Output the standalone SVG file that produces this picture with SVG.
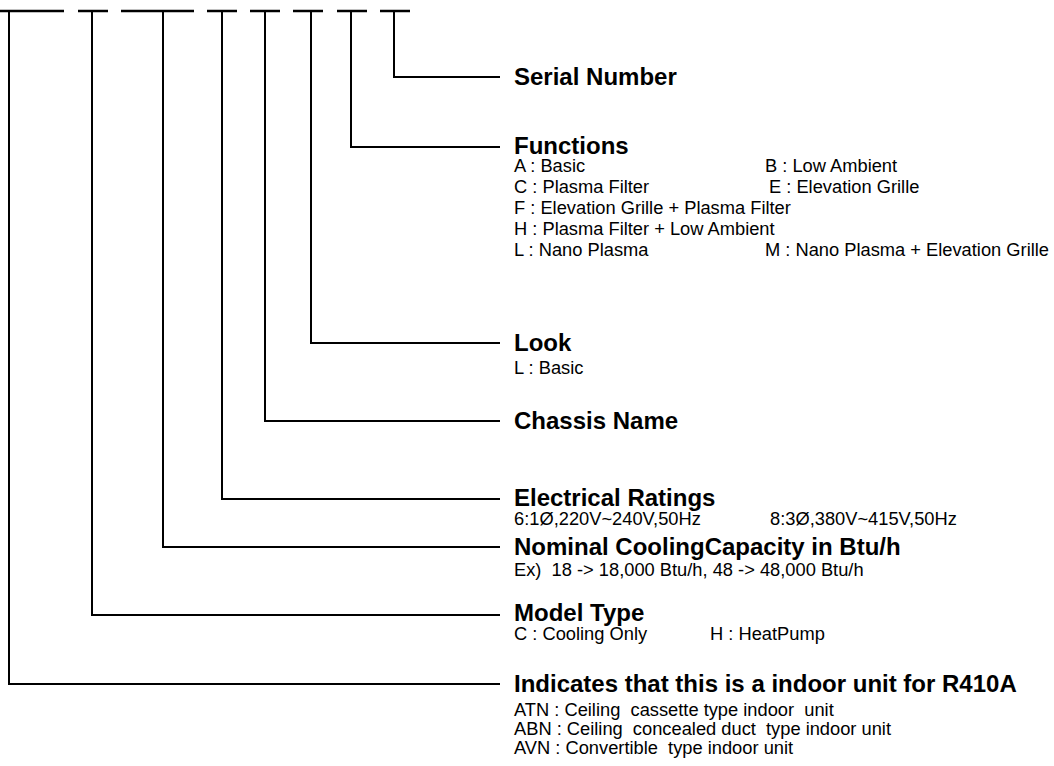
<svg xmlns="http://www.w3.org/2000/svg" width="1054" height="766" viewBox="0 0 1054 766">
<style>
.ln{fill:none;stroke:#000;stroke-width:2}
.dash{stroke:#000;stroke-width:2.5}
.t{font-family:"Liberation Sans",Arial,sans-serif;font-weight:bold;font-size:24px;fill:#000}
.s{font-family:"Liberation Sans",Arial,sans-serif;font-size:18.3px;fill:#000;white-space:pre}
</style>
<rect width="1054" height="766" fill="#fff"/>
<g id="code-dashes">
<line class="dash" x1="0" y1="11" x2="64" y2="11"/>
<line class="dash" x1="78" y1="11" x2="108" y2="11"/>
<line class="dash" x1="121" y1="11" x2="194" y2="11"/>
<line class="dash" x1="207" y1="11" x2="237" y2="11"/>
<line class="dash" x1="250" y1="11" x2="280" y2="11"/>
<line class="dash" x1="293" y1="11" x2="323" y2="11"/>
<line class="dash" x1="337" y1="11" x2="367" y2="11"/>
<line class="dash" x1="380" y1="11" x2="410" y2="11"/>
</g>
<g id="connectors">
<polyline class="ln" points="394,11 394,77 500,77"/>
<polyline class="ln" points="351,11 351,147 500,147"/>
<polyline class="ln" points="311,11 311,343 500,343"/>
<polyline class="ln" points="265,11 265,421 500,421"/>
<polyline class="ln" points="222,11 222,499 500,499"/>
<polyline class="ln" points="163,11 163,547 500,547"/>
<polyline class="ln" points="92,11 92,615 500,615"/>
<polyline class="ln" points="9,11 9,684 500,684"/>
</g>
<g id="serial-number">
<text class="t" x="514" y="85">Serial Number</text>
</g>
<g id="functions">
<text class="t" x="514" y="154">Functions</text>
<text class="s" x="514" y="172">A : Basic</text>
<text class="s" x="765" y="172">B : Low Ambient</text>
<text class="s" x="514" y="193">C : Plasma Filter</text>
<text class="s" x="769" y="193">E : Elevation Grille</text>
<text class="s" x="514" y="214">F : Elevation Grille + Plasma Filter</text>
<text class="s" x="514" y="235">H : Plasma Filter + Low Ambient</text>
<text class="s" x="514" y="256">L : Nano Plasma</text>
<text class="s" x="765" y="256">M : Nano Plasma + Elevation Grille</text>
</g>
<g id="look">
<text class="t" x="514" y="351">Look</text>
<text class="s" x="514" y="374">L : Basic</text>
</g>
<g id="chassis-name">
<text class="t" x="514" y="429">Chassis Name</text>
</g>
<g id="electrical-ratings">
<text class="t" x="514" y="506">Electrical Ratings</text>
<text class="s" x="514" y="525">6:1Ø,220V~240V,50Hz</text>
<text class="s" x="770" y="525">8:3Ø,380V~415V,50Hz</text>
</g>
<g id="nominal-capacity">
<text class="t" x="514" y="555">Nominal CoolingCapacity in Btu/h</text>
<text class="s" x="514" y="576">Ex)  18 -&gt; 18,000 Btu/h, 48 -&gt; 48,000 Btu/h</text>
</g>
<g id="model-type">
<text class="t" x="514" y="621">Model Type</text>
<text class="s" x="514" y="640">C : Cooling Only</text>
<text class="s" x="710" y="640">H : HeatPump</text>
</g>
<g id="indoor-unit">
<text class="t" x="514" y="692">Indicates that this is a indoor unit for R410A</text>
<text class="s" x="514" y="716">ATN : Ceiling  cassette type indoor  unit</text>
<text class="s" x="514" y="735">ABN : Ceiling  concealed duct  type indoor unit</text>
<text class="s" x="514" y="754">AVN : Convertible  type indoor unit</text>
</g>
</svg>
